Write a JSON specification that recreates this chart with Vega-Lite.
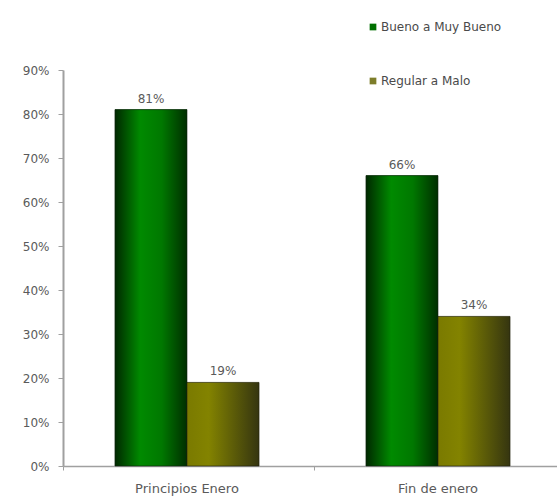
{
  "$schema": "https://vega.github.io/schema/vega-lite/v6.json",
  "width": 499,
  "height": 396,
  "autosize": {"type": "none"},
  "padding": {"left": 63, "top": 70, "right": 0, "bottom": 33},
  "background": "white",
  "config": {
    "view": {"stroke": null},
    "font": "DejaVu Sans",
    "axis": {"labelFont": "DejaVu Sans", "labelColor": "#5a5a5a", "domainColor": "#a0a0a0", "tickColor": "#a0a0a0"},
    "legend": {"labelFont": "DejaVu Sans"}
  },
  "data": {
    "values": [
      {"periodo": "Principios Enero", "serie": "Bueno a Muy Bueno", "valor": 0.81},
      {"periodo": "Principios Enero", "serie": "Regular a Malo", "valor": 0.19},
      {"periodo": "Fin de enero", "serie": "Bueno a Muy Bueno", "valor": 0.66},
      {"periodo": "Fin de enero", "serie": "Regular a Malo", "valor": 0.34}
    ]
  },
  "encoding": {
    "x": {
      "field": "periodo",
      "type": "nominal",
      "sort": ["Principios Enero", "Fin de enero"],
      "scale": {"paddingInner": 0.426, "paddingOuter": 0.207},
      "axis": {
        "title": null,
        "labelAngle": 0,
        "labelFontSize": 13,
        "labelPadding": 12,
        "tickSize": 4,
        "bandPosition": -0.36,
        "domainWidth": 1.5
      }
    },
    "xOffset": {
      "field": "serie",
      "type": "nominal",
      "sort": ["Bueno a Muy Bueno", "Regular a Malo"],
      "scale": {"domain": ["Bueno a Muy Bueno", "Regular a Malo"]}
    },
    "y": {
      "field": "valor",
      "type": "quantitative",
      "scale": {"domain": [0, 0.9]},
      "axis": {
        "title": null,
        "format": ".0%",
        "values": [0, 0.1, 0.2, 0.3, 0.4, 0.5, 0.6, 0.7, 0.8, 0.9],
        "grid": false,
        "labelFontSize": 12,
        "tickSize": 5,
        "labelPadding": 9,
        "domainWidth": 2
      }
    }
  },
  "layer": [
    {
      "mark": {"type": "bar"},
      "encoding": {
        "color": {
          "field": "serie",
          "type": "nominal",
          "scale": {"domain": ["Bueno a Muy Bueno", "Regular a Malo"], "range": ["#006f00", "#7d7d2a"]},
          "legend": {
            "title": null,
            "orient": "none",
            "legendX": 304,
            "legendY": -49,
            "symbolType": "square",
            "symbolSize": 45,
            "symbolStrokeWidth": 0,
            "labelFontSize": 12,
            "labelColor": "#4a4a4a",
            "labelOffset": 2,
            "rowPadding": 42,
            "labelLimit": 300
          }
        }
      }
    },
    {
      "transform": [{"filter": "datum.serie == 'Bueno a Muy Bueno'"}],
      "mark": {
        "type": "bar",
        "stroke": "#102010",
        "strokeWidth": 0.6,
        "fill": {
          "gradient": "linear",
          "x1": 0, "y1": 0, "x2": 1, "y2": 0,
          "stops": [
            {"offset": 0, "color": "#002800"},
            {"offset": 0.35, "color": "#008a00"},
            {"offset": 0.65, "color": "#007800"},
            {"offset": 1, "color": "#002e00"}
          ]
        }
      }
    },
    {
      "transform": [{"filter": "datum.serie == 'Regular a Malo'"}],
      "mark": {
        "type": "bar",
        "stroke": "#202010",
        "strokeWidth": 0.6,
        "fill": {
          "gradient": "linear",
          "x1": 0, "y1": 0, "x2": 1, "y2": 0,
          "stops": [
            {"offset": 0, "color": "#7a7a00"},
            {"offset": 0.3, "color": "#838300"},
            {"offset": 1, "color": "#353510"}
          ]
        }
      }
    },
    {
      "mark": {"type": "text", "dy": -11, "fontSize": 12, "color": "#5a5a5a", "font": "DejaVu Sans"},
      "encoding": {
        "text": {"field": "valor", "type": "quantitative", "format": ".0%"}
      }
    }
  ]
}
